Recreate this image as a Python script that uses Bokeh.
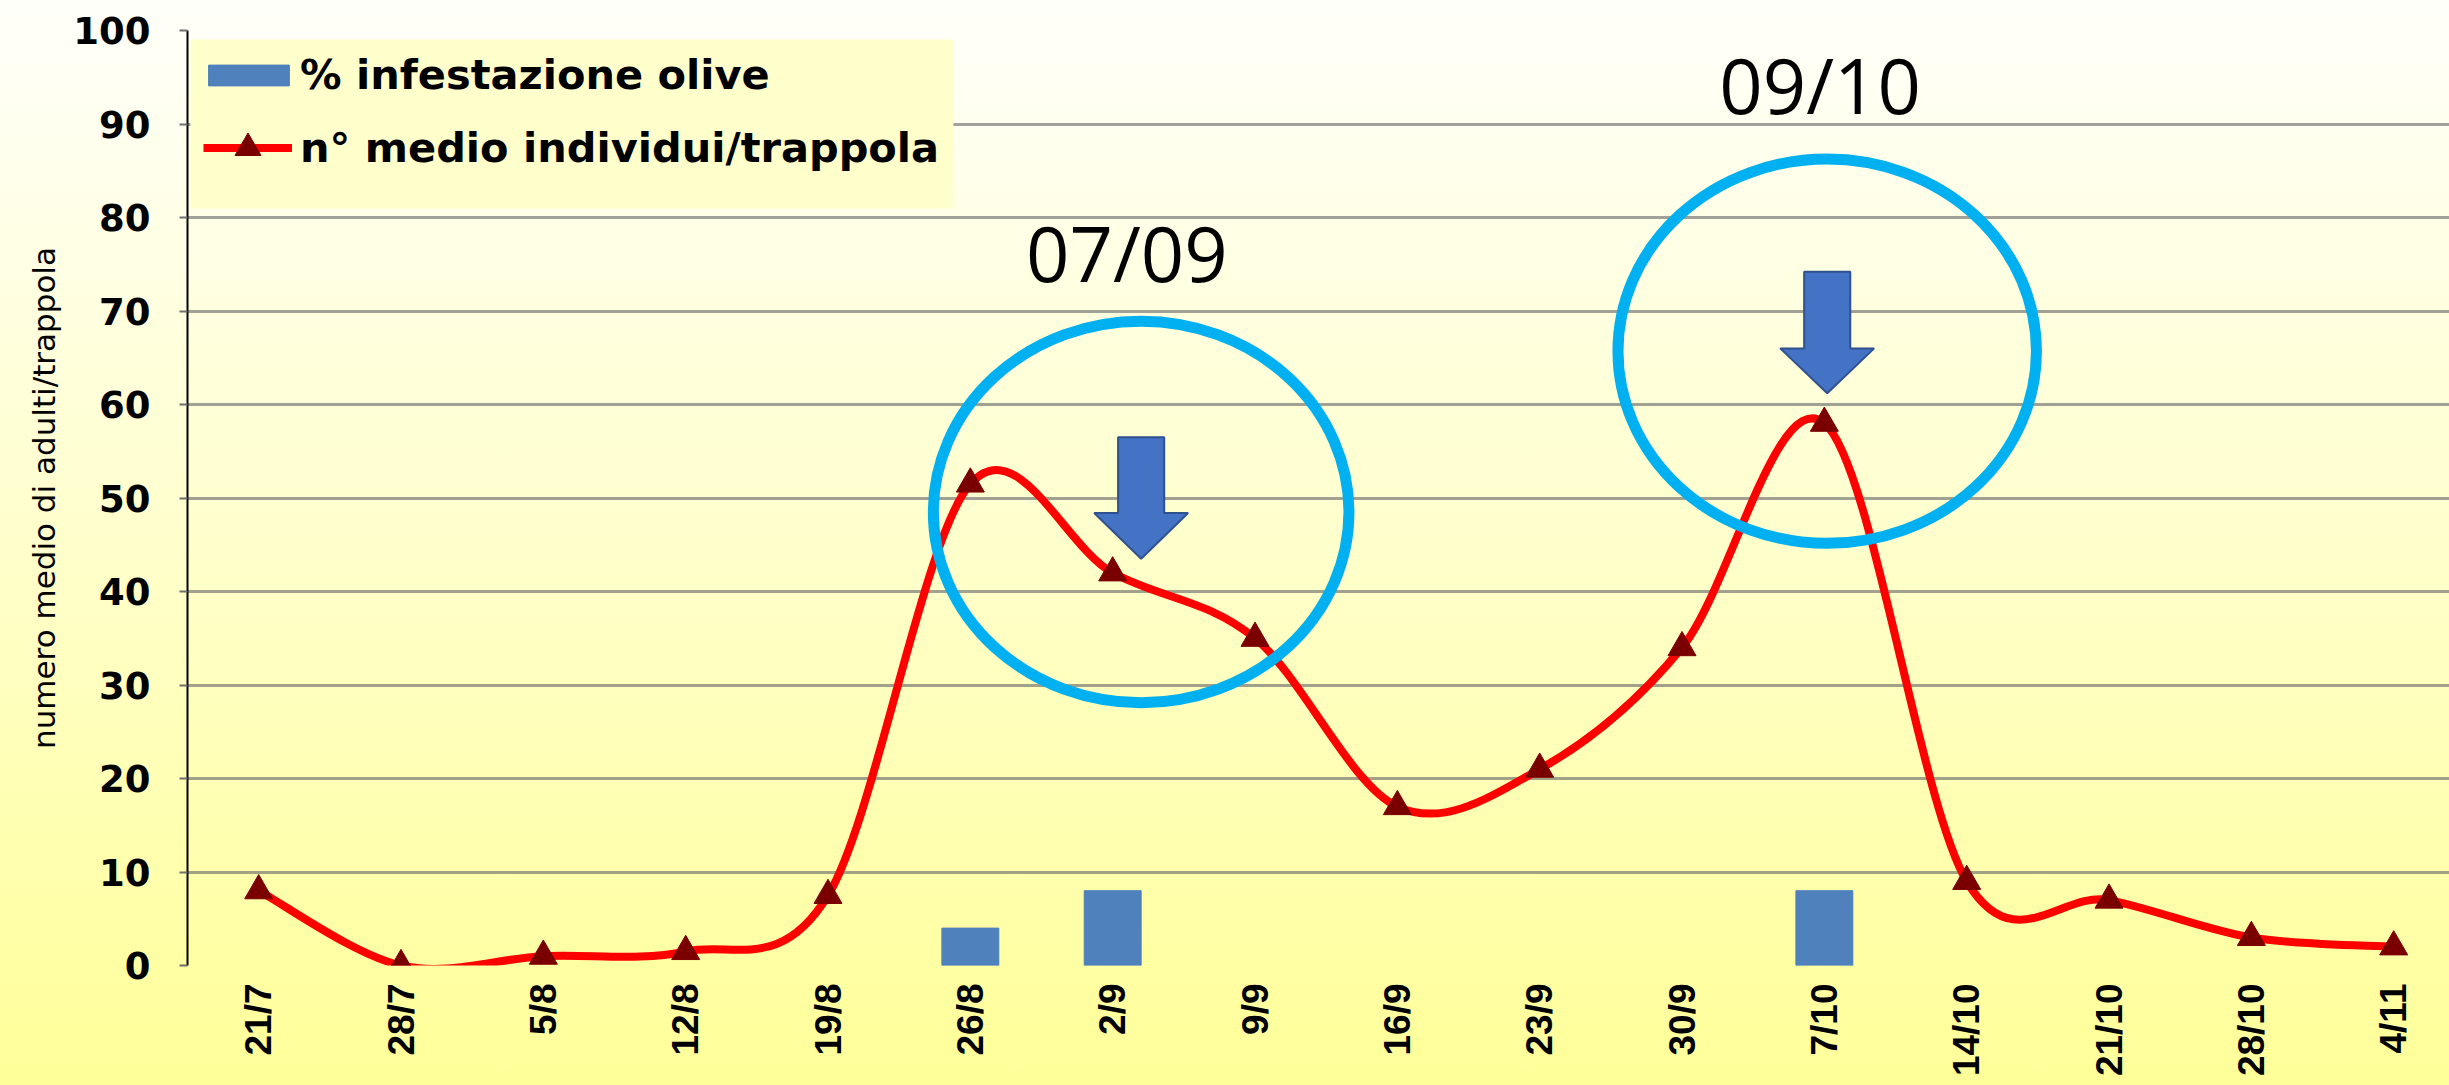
import math
from bokeh.plotting import figure
from bokeh.models import (Range1d, FixedTicker, Legend, LegendItem,
                          BoxAnnotation, Label)
from bokeh.embed import file_html
from bokeh.resources import INLINE

# ---------------- data ----------------
dates = ["21/7", "28/7", "5/8", "12/8", "19/8", "26/8", "2/9", "9/9",
         "16/9", "23/9", "30/9", "7/10", "14/10", "21/10", "28/10", "4/11"]
adults = [8, 0, 1, 1.5, 7.5, 51.5, 42, 35, 17, 21, 34, 58, 9, 7, 3, 2]
nan = float("nan")
infestation = [nan, nan, nan, nan, nan, 4, 8, nan, nan, nan, nan, 8,
               nan, nan, nan, nan]
y_ticks = [0, 10, 20, 30, 40, 50, 60, 70, 80, 90, 100]

# ---------------- annotations (data units) ----------------
note_texts = ["07/09", "09/10"]
note_x = [6.10, 10.97]
note_y = [76.3, 94.2]
circle_x = [6.20, 11.02]
circle_y = [48.5, 65.7]
circle_w = [2.92, 2.94]
circle_h = [40.8, 41.1]
arrow_x = [6.20, 11.02]        # centre
arrow_top = [56.5, 74.2]
arrow_base = [48.4, 66.0]
arrow_tip = [43.5, 61.2]
shaft_half = 0.162
head_half = 0.33

xs = list(range(len(dates)))
n = len(xs)

p = figure(width=2449, height=1085,
           x_range=Range1d(-0.5, 15.392), y_range=Range1d(0, 100),
           output_backend="svg", toolbar_location=None,
           min_border_left=187, min_border_right=0,
           min_border_top=30, min_border_bottom=120)

p.styles = {"background": "linear-gradient(180deg, #fffffa 0%, #ffffcc 50%, #ffff99 100%)"}
p.background_fill_color = None
p.border_fill_color = None
p.outline_line_color = None

# grid
p.xgrid.visible = False
p.ygrid.ticker = FixedTicker(ticks=y_ticks)
p.ygrid.grid_line_color = "#6e6e6e"
p.ygrid.grid_line_alpha = 0.65
p.ygrid.grid_line_width = 3

# y axis
p.yaxis.ticker = FixedTicker(ticks=y_ticks)
p.yaxis.axis_line_color = "black"
p.yaxis.axis_line_width = 2
p.yaxis.major_tick_out = 8
p.yaxis.major_tick_in = 0
p.yaxis.major_tick_line_color = "#6e6e6e"
p.yaxis.major_tick_line_width = 2
p.yaxis.minor_tick_line_color = None
p.yaxis.major_label_standoff = 29
p.yaxis.major_label_text_font = "DejaVu Sans"
p.yaxis.major_label_text_font_style = "bold"
p.yaxis.major_label_text_font_size = "37px"
p.yaxis.major_label_text_color = "black"
p.yaxis.axis_label = "numero medio di adulti/trappola"
p.yaxis.axis_label_text_font = "DejaVu Sans"
p.yaxis.axis_label_text_font_style = "normal"
p.yaxis.axis_label_text_font_size = "31px"
p.yaxis.axis_label_text_color = "black"
p.yaxis.axis_label_standoff = 8

# x axis
p.xaxis.ticker = FixedTicker(ticks=xs)
p.xaxis.major_label_overrides = {i: d for i, d in zip(xs, dates)}
p.xaxis.major_label_orientation = math.pi / 2
p.xaxis.axis_line_color = None
p.xaxis.major_tick_line_color = None
p.xaxis.minor_tick_line_color = None
p.xaxis.major_tick_out = 0
p.xaxis.major_tick_in = 0
p.xaxis.major_label_standoff = 18
p.xaxis.major_label_text_font = "Liberation Sans"
p.xaxis.major_label_text_font_style = "bold"
p.xaxis.major_label_text_font_size = "37px"
p.xaxis.major_label_text_color = "black"

# legend box
p.add_layout(BoxAnnotation(left=-0.479, right=4.881, bottom=80.96, top=99.04,
                           fill_color="#ffffcc", fill_alpha=1.0,
                           line_color=None, level="underlay"))

# bars
bars = p.vbar(x=xs, top=infestation, width=0.4, bottom=0,
              fill_color="#4f81bd", line_color="#4f81bd")

# smoothed line (Bezier segments built from the data)
bx0, by0, bx1, by1, cx0, cy0, cx1, cy1 = [], [], [], [], [], [], [], []
for i in range(n - 1):
    ip = max(i - 1, 0)
    i2 = min(i + 2, n - 1)
    bx0.append(xs[i]); by0.append(adults[i])
    bx1.append(xs[i + 1]); by1.append(adults[i + 1])
    cx0.append(xs[i] + (xs[i + 1] - xs[ip]) / 6)
    cy0.append(adults[i] + (adults[i + 1] - adults[ip]) / 6)
    cx1.append(xs[i + 1] - (xs[i2] - xs[i]) / 6)
    cy1.append(adults[i + 1] - (adults[i2] - adults[i]) / 6)
curve = p.bezier(x0=bx0, y0=by0, x1=bx1, y1=by1, cx0=cx0, cy0=cy0,
                 cx1=cx1, cy1=cy1, line_color="#ff0000", line_width=8)
marks = p.scatter(x=xs, y=adults, marker="triangle", size=28,
                  fill_color="#7a0000", line_color="#7a0000")

# circles
p.ellipse(x=circle_x, y=circle_y, width=circle_w, height=circle_h,
          fill_color=None, line_color="#00b0f0", line_width=11)

# arrows
for cx, t, b, tip in zip(arrow_x, arrow_top, arrow_base, arrow_tip):
    px = [cx - shaft_half, cx + shaft_half, cx + shaft_half, cx + head_half,
          cx, cx - head_half, cx - shaft_half]
    py = [t, t, b, b, tip, b, b]
    p.patch(px, py, fill_color="#4472c4", line_color="#2f528f", line_width=2)

# notes
for txt, x, y in zip(note_texts, note_x, note_y):
    p.add_layout(Label(x=x, y=y, text=txt, text_align="center",
                       text_baseline="middle", text_font="Open Sans",
                       text_font_size="76px", text_color="black"))


def style_legend(lg):
    lg.background_fill_alpha = 0
    lg.border_line_color = None
    lg.padding = 0
    lg.margin = 0
    lg.spacing = 0
    lg.label_text_font = "DejaVu Sans"
    lg.label_text_font_style = "bold"
    lg.label_text_font_size = "41.5px"
    lg.label_text_color = "black"


legend_bar = Legend(items=[LegendItem(label="% infestazione olive",
                                      renderers=[bars])],
                    location=(11, 866))
style_legend(legend_bar)
legend_bar.glyph_width = 101
legend_bar.glyph_height = 26
legend_bar.label_height = 26
legend_bar.label_standoff = 1
p.add_layout(legend_bar)

legend_line = Legend(items=[LegendItem(label="n° medio individui/trappola",
                                       renderers=[curve, marks])],
                     location=(16, 785))
style_legend(legend_line)
legend_line.glyph_width = 89
legend_line.glyph_height = 65
legend_line.label_height = 65
legend_line.label_standoff = 8
p.add_layout(legend_line)

open("out.html", "w").write(file_html(p, INLINE))
